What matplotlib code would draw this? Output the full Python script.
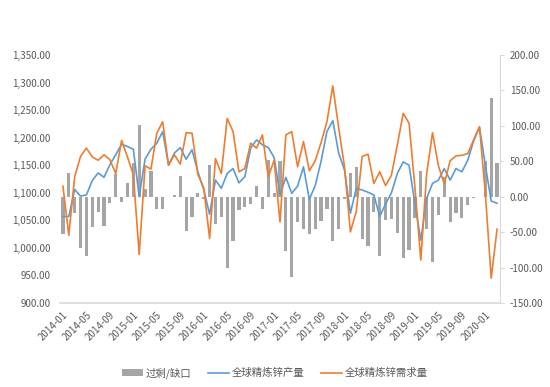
import matplotlib
matplotlib.use("Agg")
import matplotlib.pyplot as plt
import numpy as np

plt.rcParams['font.family'] = ['Noto Sans CJK SC', 'DejaVu Sans']

# monthly, 2014-01 .. 2020-03
months = ['%d-%02d' % (2014 + i // 12, i % 12 + 1) for i in range(75)]

# 过剩/缺口 (right axis)
gap = [-53, 34, -23, -73, -83, -43, -22, -41, -9, 32,
       -7, 19, 47, 101, 11, 36, -18, -18, -1, 2,
       29, -48, -29, 5, -3, 45, -38, -29, -100, -63,
       -19, -15, -10, 15, -18, 52, 5, 50, -77, -114,
       -35, -45, -52, -45, -34, -18, -62, -46, -3, 33,
       42, -59, -70, -22, -84, -33, -32, -51, -87, -75,
       -30, 36, -45, -92, -26, 28, -35, -23, -30, -12,
       -2, -1, 51, 140, 47]

# 全球精炼锌产量 (left axis)
prod = [1057, 1057, 1106, 1094, 1096, 1122, 1136, 1128, 1151, 1169,
        1188, 1184, 1179, 1093, 1161, 1179, 1190, 1211, 1150, 1172,
        1182, 1161, 1178, 1138, 1106, 1061, 1123, 1108, 1135, 1144,
        1118, 1129, 1181, 1196, 1187, 1182, 1164, 1097, 1128, 1099,
        1112, 1147, 1088, 1113, 1157, 1211, 1231, 1172, 1141, 1063,
        1108, 1105, 1101, 1096, 1057, 1080, 1100, 1135, 1156, 1150,
        1080, 1014, 1090, 1117, 1123, 1144, 1123, 1144, 1138, 1159,
        1194, 1219, 1150, 1085, 1081]

# 全球精炼锌需求量 (left axis)
dem = [1112, 1023, 1129, 1166, 1181, 1165, 1159, 1169, 1160, 1135,
       1195, 1165, 1133, 988, 1149, 1143, 1208, 1229, 1150, 1169,
       1152, 1209, 1208, 1133, 1109, 1017, 1162, 1135, 1235, 1211,
       1138, 1144, 1190, 1181, 1205, 1129, 1159, 1047, 1205, 1211,
       1147, 1193, 1140, 1158, 1191, 1229, 1294, 1218, 1147, 1029,
       1066, 1166, 1170, 1117, 1138, 1113, 1132, 1187, 1244, 1226,
       1110, 978, 1135, 1209, 1149, 1116, 1158, 1167, 1168, 1171,
       1196, 1220, 1099, 945, 1034]

x = np.arange(len(months))
axis_grey = '#D9D9D9'
text_grey = '#595959'

fig = plt.figure(figsize=(5.5, 3.87), dpi=100)
axb = fig.add_axes([60 / 550, 1 - 303 / 387, 440 / 550, 248 / 387])
axl = axb.twinx()

axb.bar(x, gap, width=0.55, color='#A5A5A5', label='过剩/缺口', zorder=2)
axb.set_ylim(-150, 200)
axb.set_yticks(np.arange(-150, 201, 50))
axb.set_yticklabels(['%.2f' % v for v in np.arange(-150, 201, 50)])
axb.yaxis.tick_right()
axb.tick_params(axis='y', labelcolor=text_grey, color=axis_grey,
                labelsize=7, length=3, width=0.8, pad=4)
axb.set_xlim(-0.5, len(months) - 0.5)
axb.set_xticks(x[::4])
axb.set_xticklabels(months[::4], rotation=45, ha='right', va='top',
                    rotation_mode='anchor', fontsize=7, color=text_grey)
axb.tick_params(axis='x', length=0, pad=5)
for s in ['top', 'left']:
    axb.spines[s].set_visible(False)
axb.spines['right'].set_color(axis_grey)
axb.spines['bottom'].set_color(axis_grey)
axb.spines['bottom'].set_linewidth(1.2)

axl.plot(x, prod, color='#5B9BD5', lw=1.2, label='全球精炼锌产量')
axl.plot(x, dem, color='#ED7D31', lw=1.2, label='全球精炼锌需求量')
axl.set_ylim(900, 1350)
axl.set_yticks(np.arange(900, 1351, 50))
axl.set_yticklabels(['{:,.2f}'.format(v) for v in np.arange(900, 1351, 50)])
axl.yaxis.tick_left()
axl.tick_params(axis='y', labelcolor=text_grey, labelsize=7, length=0, pad=7)
for s in ['top', 'left', 'right', 'bottom']:
    axl.spines[s].set_visible(False)

h1, l1 = axb.get_legend_handles_labels()
h2, l2 = axl.get_legend_handles_labels()
fig.legend(h1 + h2, l1 + l2, loc='center', bbox_to_anchor=(0.5, 0.036),
           ncol=3, frameon=False, fontsize=7.5, handlelength=2.0,
           handletextpad=0.3, columnspacing=1.6, labelcolor=text_grey)

fig.savefig('out.png', dpi=100)
